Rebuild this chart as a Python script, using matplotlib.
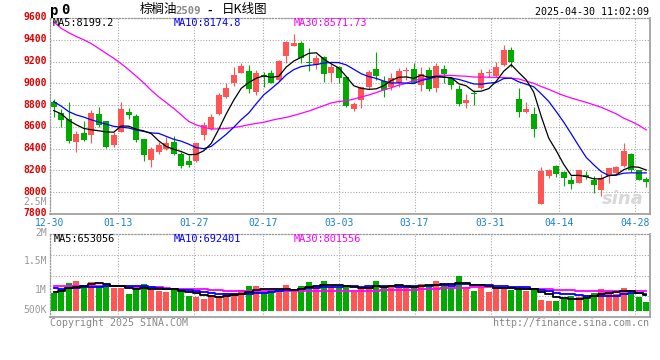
import numpy as np
import pandas as pd
import matplotlib
matplotlib.use('Agg')
import matplotlib.pyplot as plt
from matplotlib.transforms import ScaledTranslation

# ---------------- data ----------------
tick_labels = ['12-30', '01-13', '01-27', '02-17', '03-03', '03-17', '03-31', '04-14', '04-28']
tick_index = [0, 9, 19, 28, 38, 48, 58, 67, 77]

opens = [8832, 8730, 8669, 8463, 8546, 8524, 8718, 8656, 8432, 8555,
         8736, 8699, 8487, 8294, 8371, 8401, 8463, 8349, 8285, 8288,
         8524, 8577, 8718, 8878, 9007, 9099, 9114, 8924, 9077, 9099,
         9031, 9255, 9345, 9369, 9200, 9169, 9246, 9093, 9154, 9062,
         8764, 8847, 8970, 9133, 9025, 8964, 9000, 9117, 9130, 8985,
         9123, 8961, 9133, 9053, 8945, 8816, 8908, 8954, 9093, 9071,
         9169, 9308, 8856, 8739, 8718, 7888, 8150, 8239, 8186, 8110,
         8088, 8156, 8110, 8017, 8150, 8180, 8242, 8349, 8202, 8119]
highs = [8853, 8761, 8832, 8561, 8656, 8755, 8779, 8656, 8555, 8832,
         8776, 8718, 8487, 8417, 8463, 8503, 8515, 8371, 8340, 8448,
         8647, 8718, 8908, 9000, 9148, 9185, 9169, 9123, 9108, 9123,
         9216, 9385, 9455, 9391, 9323, 9262, 9252, 9185, 9160, 9062,
         8832, 8970, 9123, 9292, 9068, 9099, 9139, 9154, 9191, 9154,
         9154, 9191, 9169, 9062, 8985, 8899, 8939, 9130, 9130, 9200,
         9354, 9338, 8954, 8825, 8779, 8232, 8217, 8248, 8196, 8150,
         8202, 8196, 8147, 8171, 8223, 8239, 8448, 8361, 8202, 8140]
lows = [8687, 8601, 8454, 8371, 8469, 8454, 8601, 8408, 8411, 8555,
        8669, 8463, 8288, 8232, 8355, 8386, 8340, 8223, 8232, 8279,
        8478, 8570, 8709, 8862, 8976, 9093, 8914, 8893, 8970, 9000,
        9025, 9185, 9345, 9185, 9117, 9130, 9016, 9016, 9000, 8785,
        8749, 8770, 8945, 9031, 8878, 8939, 8970, 9031, 9000, 8930,
        8933, 8924, 9000, 8948, 8792, 8776, 8801, 8945, 9062, 9062,
        9160, 9154, 8687, 8730, 8509, 7888, 8134, 8140, 8054, 8033,
        8088, 8125, 7996, 7965, 8085, 8165, 8232, 8186, 8110, 8048]
closes = [8785, 8663, 8469, 8534, 8478, 8724, 8617, 8417, 8521, 8764,
          8712, 8478, 8340, 8395, 8432, 8454, 8349, 8239, 8248, 8448,
          8617, 8687, 8893, 8954, 9077, 9160, 8951, 9093, 9062, 9007,
          9209, 9375, 9369, 9237, 9185, 9237, 9083, 9154, 9047, 8795,
          8810, 8964, 9108, 9071, 8939, 9047, 9114, 9123, 9007, 9087,
          8945, 9160, 9083, 8985, 8810, 8847, 8899, 9099, 9102, 9148,
          9308, 9200, 8739, 8764, 8580, 8196, 8202, 8165, 8134, 8073,
          8202, 8140, 8064, 8134, 8223, 8232, 8380, 8202, 8110, 8094]
volumes = [747000, 888000, 1150000, 1233000, 1038000, 1191000, 1038000, 996000, 955000, 955000,
           693000, 955000, 1108000, 859000, 818000, 776000, 859000, 776000, 610000, 569000,
           486000, 623000, 610000, 722000, 747000, 859000, 1025000, 1025000, 776000, 859000,
           776000, 1067000, 859000, 1025000, 1191000, 971000, 1233000, 971000, 930000, 1067000,
           818000, 930000, 1025000, 1233000, 971000, 971000, 1067000, 971000, 1025000, 1108000,
           1067000, 1233000, 1108000, 930000, 1440000, 971000, 818000, 1108000, 776000, 971000,
           971000, 859000, 930000, 818000, 859000, 444000, 403000, 403000, 473000, 610000,
           581000, 652000, 747000, 901000, 818000, 681000, 930000, 747000, 581000, 361000]

# moving-average values before a full window is available
ma5_head = [8750, 8720, 8660, 8620]
ma10_head = [8832, 8790, 8740, 8710, 8690, 8665, 8645, 8625, 8605]
ma30 = [9565, 9505, 9465, 9430, 9400, 9365, 9320, 9275, 9230, 9180,
        9125, 9065, 9004, 8936, 8876, 8823, 8770, 8710, 8650, 8618,
        8597, 8580, 8582, 8586, 8594, 8605, 8620, 8632, 8642, 8660,
        8675, 8687, 8705, 8725, 8745, 8770, 8795, 8820, 8833, 8840,
        8855, 8875, 8893, 8915, 8940, 8960, 8983, 9000, 9025, 9040,
        9050, 9070, 9075, 9072, 9068, 9065, 9058, 9057, 9056, 9055,
        9052, 9047, 9040, 9020, 9000, 8970, 8945, 8915, 8888, 8865,
        8845, 8825, 8803, 8780, 8750, 8720, 8680, 8650, 8615, 8572]
vol_ma5_head = [764000, 830000, 930000, 997000]
vol_ma10_head = [930000, 915000, 925000, 945000, 965000, 985000, 1000000, 1005000, 1010000]
vol_ma30 = [1030000, 1028000, 1026000, 1024000, 1022000, 1020000, 1018000, 1015000, 1012000, 1008000,
            985000, 975000, 970000, 968000, 965000, 960000, 900000, 892000, 888000, 885000,
            880000, 850000, 840000, 835000, 832000, 830000, 825000, 820000, 815000, 812000,
            810000, 808000, 806000, 806000, 806000, 808000, 810000, 812000, 815000, 818000,
            818000, 820000, 825000, 835000, 845000, 855000, 860000, 862000, 870000, 880000,
            895000, 915000, 925000, 935000, 945000, 960000, 968000, 970000, 968000, 955000,
            945000, 935000, 925000, 915000, 905000, 895000, 880000, 865000, 855000, 845000,
            838000, 832000, 826000, 820000, 815000, 812000, 808000, 806000, 803000, 801556]

price_ticks = [9600, 9400, 9200, 9000, 8800, 8600, 8400, 8200, 8000, 7800]
vol_tick_labels = ['2.5M', '2M', '1.5M', '1M', '500K']

legend_price = ['MA5:8199.2', 'MA10:8174.8', 'MA30:8571.73']
legend_vol = ['MA5:653056', 'MA10:692401', 'MA30:801556']
title_name = '棕榈油'
title_code = '2509'
title_rest = '日K线图'
timestamp = '2025-04-30 11:02:09'

# ---------------- styles ----------------
RED = '#ff5555'
GREEN = '#00aa00'
BLUE = '#0000ff'
MAG = '#ff00ff'
GRID = '#aaaaaa'
FRAME = '#999999'
MONO = 'DejaVu Sans Mono'
CJK = ['Noto Sans CJK SC', 'DejaVu Sans']
W, H = 660, 360

O = np.array(opens, float)
Hh = np.array(highs, float)
L = np.array(lows, float)
C = np.array(closes, float)
V = np.array(volumes, float)
n = len(C)
x = np.arange(n) + 0.5
up = C >= O
cols = np.where(up, RED, GREEN)

ma5 = pd.Series(C).rolling(5).mean().to_numpy()
ma5[:len(ma5_head)] = ma5_head
ma10 = pd.Series(C).rolling(10).mean().to_numpy()
ma10[:len(ma10_head)] = ma10_head
vma5 = pd.Series(V).rolling(5).mean().to_numpy()
vma5[:len(vol_ma5_head)] = vol_ma5_head
vma10 = pd.Series(V).rolling(10).mean().to_numpy()
vma10[:len(vol_ma10_head)] = vol_ma10_head

fig = plt.figure(figsize=(W / 100, H / 100), dpi=100)
fig.patch.set_facecolor('white')


def rect(l, t, r, b):
    return [l / W, 1 - b / H, (r - l) / W, (b - t) / H]


ax = fig.add_axes(rect(50, 18, 650, 214))
axv = fig.add_axes(rect(50, 234, 650, 317))

grid_x = [i * n / (n - 1) for i in tick_index]

for a in (ax, axv):
    a.set_xlim(0, n)
    a.set_xticks(grid_x)
    a.grid(True, color=GRID, ls=(0, (1, 1.5)), lw=0.8)
    a.set_axisbelow(True)
    for s in ('left', 'top'):
        a.spines[s].set_linestyle((0, (1, 1.5)))
        a.spines[s].set_color(FRAME)
        a.spines[s].set_linewidth(0.9)
    for s in ('right', 'bottom'):
        a.spines[s].set_color(FRAME)
        a.spines[s].set_linewidth(1.2)
    a.tick_params(length=0)

# ---- price panel ----
ax.set_ylim(7800, 9600)
ax.set_yticks(price_ticks)
ax.set_yticklabels([str(t) for t in price_ticks], color='#dd0000', fontsize=7.0,
                   family=MONO, fontweight='bold')
ax.tick_params(axis='y', pad=2)
up_shift = ScaledTranslation(0, 1.5 / 100, fig.dpi_scale_trans)
for lab in ax.get_yticklabels():
    lab.set_transform(lab.get_transform() + up_shift)
ax.set_xticklabels(tick_labels, color='#1a7fd0', fontsize=7.0, family=MONO)
ax.tick_params(axis='x', pad=2.8)

ax.vlines(x, L, Hh, colors=cols, lw=0.8, zorder=2)
body_b = np.minimum(O, C)
body_h = np.maximum(np.abs(C - O), 8)
ax.bar(x, body_h, bottom=body_b, width=0.8, color=cols, lw=0, zorder=3)
ax.plot(x, ma30, color=MAG, lw=0.9, zorder=4)
ax.plot(x, ma10, color=BLUE, lw=0.9, zorder=5)
ax.plot(x, ma5, color='black', lw=0.9, zorder=6)

# ---- volume panel ----
vpx = 41500.0
axv.set_ylim(-6.3 * vpx, 76.7 * vpx)
lo, hi = axv.get_ylim()
axv.set_yticks(np.linspace(lo, hi, 5)[1:-1])
axv.set_yticklabels([])
axv.set_xticklabels([])
axv.bar(x, V, width=0.8, color=cols, lw=0, zorder=2)
axv.plot(x, vol_ma30, color=MAG, lw=1.3, drawstyle='steps-mid', zorder=3)
axv.plot(x, vma10, color=BLUE, lw=1.3, drawstyle='steps-mid', zorder=4)
axv.plot(x, vma5, color='black', lw=1.3, drawstyle='steps-mid', zorder=5)
for lab, fy in zip(vol_tick_labels, [1.386, 1.012, 0.675, 0.325, 0.084]):
    axv.text(-0.005, fy, lab, transform=axv.transAxes, ha='right', va='center',
             color='#999999', fontsize=7.0, family=MONO, clip_on=False)


def ftext(px, py, s, **kw):
    fig.text(px / W, 1 - py / H, s, **kw)


# legends
for s, c, px in zip(legend_price, ['black', BLUE, MAG], [53, 174, 294]):
    ftext(px, 23.5, s, color=c, fontsize=7.4, family=MONO, va='center', ha='left')
for s, c, px in zip(legend_vol, ['black', BLUE, MAG], [54, 174, 294]):
    ftext(px, 238.5, s, color=c, fontsize=7.4, family=MONO, va='center', ha='left')

# header
ftext(50, 10.5, 'p', fontsize=10, family=MONO, fontweight='bold', va='center', ha='left')
ftext(61, 10.5, '0', fontsize=10, family=MONO, fontweight='bold', va='center', ha='left')
ftext(140, 10, title_name, fontsize=9, family=CJK, va='center', ha='left')
ftext(175.5, 10.5, title_code, fontsize=7.6, family=MONO, fontweight='bold', color='#888888',
      va='center', ha='left')
ftext(206, 10.5, '-', fontsize=8, family=MONO, fontweight='bold', va='center', ha='left')
ftext(222, 10, title_rest, fontsize=9, family=CJK, va='center', ha='left')
ftext(649, 12, timestamp, fontsize=7.2, family=MONO, va='center', ha='right')

# watermark
ftext(623, 199, 'sina', fontsize=13, fontstyle='italic', fontweight='bold', color='#d8d8d8',
      va='center', ha='center', family='DejaVu Sans')

# footer
ftext(50, 323, 'Copyright 2025 SINA.COM', fontsize=7.2, family=MONO, color='#888888',
      va='center', ha='left')
ftext(649, 323, 'http://finance.sina.com.cn', fontsize=7.2, family=MONO, color='#888888',
      va='center', ha='right')

fig.savefig('out.png', dpi=100, facecolor='white')
